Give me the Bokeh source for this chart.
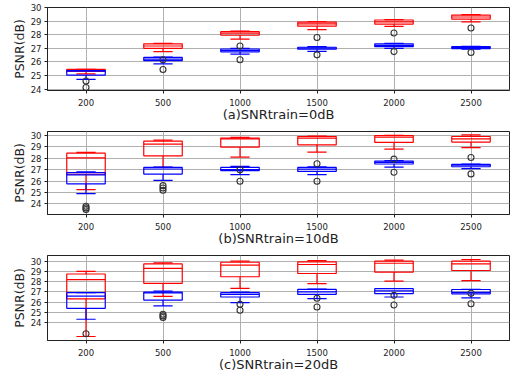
from bokeh.plotting import figure
from bokeh.layouts import column
from bokeh.models import FixedTicker, Range1d
from bokeh.embed import file_html
from bokeh.resources import INLINE

categories = ["200", "500", "1000", "1500", "2000", "2500"]
xlabels = ["(a)SNRtrain=0dB", "(b)SNRtrain=10dB", "(c)SNRtrain=20dB"]
ylabel = "PSNR(dB)"
yticks = [24, 25, 26, 27, 28, 29, 30]

# ---- panel (a) SNRtrain=0dB ----
a_red_wlo = [25.12, 26.76, 27.67, 28.37, 28.61, 28.94]
a_red_q1 = [25.30, 27.00, 27.96, 28.63, 28.78, 29.14]
a_red_med = [25.38, 27.17, 28.12, 28.80, 28.95, 29.30]
a_red_q3 = [25.45, 27.33, 28.22, 28.93, 29.08, 29.44]
a_red_whi = [25.45, 27.36, 28.27, 28.97, 29.11, 29.47]
a_red_out = [[], [26.16], [27.17], [27.79], [28.13], [28.49]]

a_blue_wlo = [24.72, 25.85, 26.57, 26.78, 27.00, 26.93]
a_blue_q1 = [25.03, 26.09, 26.74, 26.93, 27.12, 26.98]
a_blue_med = [25.33, 26.20, 26.85, 27.02, 27.22, 27.05]
a_blue_q3 = [25.37, 26.33, 26.95, 27.08, 27.33, 27.12]
a_blue_whi = [25.37, 26.35, 27.00, 27.12, 27.36, 27.14]
a_blue_out = [[24.60, 24.12], [25.44], [26.16], [26.52], [26.76], [26.69]]

# ---- panel (b) SNRtrain=10dB ----
b_red_wlo = [25.25, 27.20, 28.10, 28.54, 28.80, 28.94]
b_red_q1 = [26.60, 28.22, 28.98, 29.18, 29.39, 29.42]
b_red_med = [28.04, 29.24, 29.70, 29.77, 29.85, 29.71]
b_red_q3 = [28.45, 29.50, 29.77, 29.91, 30.00, 29.91]
b_red_whi = [28.52, 29.60, 29.83, 29.95, 30.02, 30.06]
b_red_out = [[], [], [27.00], [], [], []]

b_blue_wlo = [24.90, 26.07, 26.56, 26.56, 27.23, 27.09]
b_blue_q1 = [25.76, 26.62, 26.91, 26.85, 27.50, 27.26]
b_blue_med = [26.54, 27.06, 27.00, 27.05, 27.65, 27.40]
b_blue_q3 = [26.74, 27.20, 27.20, 27.20, 27.76, 27.47]
b_blue_whi = [26.80, 27.22, 27.29, 27.25, 27.80, 27.50]
b_blue_out = [[23.80, 23.65, 23.50], [25.60, 25.40, 25.20], [25.98],
              [27.52, 25.98], [27.93, 26.77], [28.07, 26.63]]

# ---- panel (c) SNRtrain=20dB ----
c_red_wlo = [22.63, 26.55, 27.34, 27.80, 28.05, 28.11]
c_red_q1 = [26.32, 27.83, 28.48, 28.80, 28.93, 29.09]
c_red_med = [28.20, 29.29, 29.61, 29.68, 29.80, 29.75]
c_red_q3 = [28.75, 29.74, 29.90, 29.94, 30.00, 30.00]
c_red_whi = [29.00, 29.84, 30.00, 30.06, 30.10, 30.17]
c_red_out = [[22.90], [], [], [], [], []]

c_blue_wlo = [24.32, 25.62, 25.95, 26.33, 26.50, 26.42]
c_blue_q1 = [25.39, 26.20, 26.50, 26.76, 26.82, 26.81]
c_blue_med = [26.58, 26.90, 26.75, 27.00, 27.10, 26.95]
c_blue_q3 = [26.92, 26.98, 26.92, 27.24, 27.31, 27.23]
c_blue_whi = [26.93, 27.08, 26.98, 27.27, 27.33, 27.25]
c_blue_out = [[], [24.81, 24.65, 24.49], [25.78, 25.20], [26.37, 25.52],
              [26.66, 25.72], [26.87, 25.83]]

panels = [
    dict(y=(23.9, 30.0),
         red=(a_red_wlo, a_red_q1, a_red_med, a_red_q3, a_red_whi, a_red_out),
         blue=(a_blue_wlo, a_blue_q1, a_blue_med, a_blue_q3, a_blue_whi, a_blue_out)),
    dict(y=(23.07, 30.35),
         red=(b_red_wlo, b_red_q1, b_red_med, b_red_q3, b_red_whi, b_red_out),
         blue=(b_blue_wlo, b_blue_q1, b_blue_med, b_blue_q3, b_blue_whi, b_blue_out)),
    dict(y=(22.24, 30.56),
         red=(c_red_wlo, c_red_q1, c_red_med, c_red_q3, c_red_whi, c_red_out),
         blue=(c_blue_wlo, c_blue_q1, c_blue_med, c_blue_q3, c_blue_whi, c_blue_out)),
]

FONT = "DejaVu Sans"
TXT = "#222222"
LW = 1.2
BOX_W = 0.5
CAP_W = 0.25

frame_h = [84, 84, 85]
top_b = [7, 7, 7]
bottom_b = [33, 33, 36]
left_b = 47
right_b = 3
frame_w = 462


def draw_series(p, stats, color):
    wlo, q1, med, q3, whi, outs = stats
    xs = list(range(1, len(categories) + 1))
    p.quad(left=[x - BOX_W / 2 for x in xs], right=[x + BOX_W / 2 for x in xs],
           bottom=q1, top=q3, fill_color=None, line_color=color, line_width=LW)
    p.segment(x0=[x - BOX_W / 2 for x in xs], x1=[x + BOX_W / 2 for x in xs],
              y0=med, y1=med, line_color=color, line_width=LW)
    p.segment(x0=xs, x1=xs, y0=q3, y1=whi, line_color=color, line_width=LW)
    p.segment(x0=xs, x1=xs, y0=q1, y1=wlo, line_color=color, line_width=LW)
    p.segment(x0=[x - CAP_W / 2 for x in xs], x1=[x + CAP_W / 2 for x in xs],
              y0=whi, y1=whi, line_color=color, line_width=LW)
    p.segment(x0=[x - CAP_W / 2 for x in xs], x1=[x + CAP_W / 2 for x in xs],
              y0=wlo, y1=wlo, line_color=color, line_width=LW)
    ox, oy = [], []
    for x, vals in zip(xs, outs):
        for v in vals:
            ox.append(x)
            oy.append(v)
    return ox, oy


figs = []
for i, pan in enumerate(panels):
    p = figure(width=left_b + frame_w + right_b,
               height=top_b[i] + frame_h[i] + bottom_b[i],
               x_range=Range1d(0.5, len(categories) + 0.5),
               y_range=Range1d(*pan["y"]),
               output_backend="svg", toolbar_location=None,
               min_border_left=left_b, min_border_right=right_b,
               min_border_top=top_b[i], min_border_bottom=bottom_b[i])
    p.background_fill_color = "white"
    p.border_fill_color = "white"
    p.outline_line_color = "#222222"
    p.outline_line_width = 1
    ox1, oy1 = draw_series(p, pan["red"], "#ff0000")
    ox2, oy2 = draw_series(p, pan["blue"], "#0000ff")
    p.scatter(x=ox1 + ox2, y=oy1 + oy2, marker="circle", size=6,
              fill_color=None, line_color="#333333", line_width=1.1)

    p.xaxis.ticker = FixedTicker(ticks=list(range(1, len(categories) + 1)))
    p.xaxis.major_label_overrides = {i + 1: c for i, c in enumerate(categories)}
    p.yaxis.ticker = FixedTicker(ticks=yticks)
    for ax in (p.xaxis[0], p.yaxis[0]):
        ax.axis_line_color = "#222222"
        ax.major_tick_line_color = "#222222"
        ax.major_tick_out = 3
        ax.major_tick_in = 0
        ax.minor_tick_line_color = None
        ax.major_label_text_font = FONT
        ax.major_label_text_font_size = "8.5px"
        ax.major_label_text_color = TXT
        ax.axis_label_text_font = FONT
        ax.axis_label_text_font_style = "normal"
        ax.axis_label_text_color = TXT
    p.xaxis.major_label_standoff = 5
    p.yaxis.major_label_standoff = 3
    p.xaxis.axis_label = xlabels[i]
    p.xaxis.axis_label_text_font_size = "13px"
    p.xaxis.axis_label_standoff = -2
    p.yaxis.axis_label = ylabel
    p.yaxis.axis_label_text_font_size = "12.5px"
    p.yaxis.axis_label_standoff = 1
    p.grid.grid_line_color = "#b0b0b0"
    p.grid.grid_line_width = 1
    figs.append(p)

layout = column(*figs, spacing=0)
open("out.html", "w").write(file_html(layout, INLINE))
